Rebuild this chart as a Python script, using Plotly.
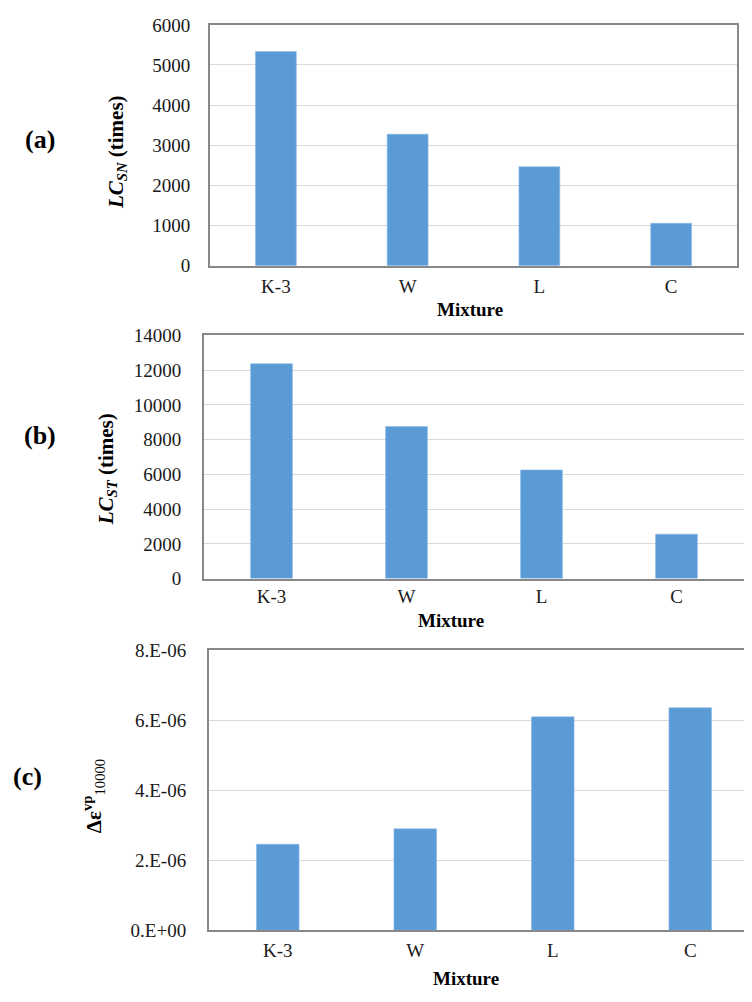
import plotly.graph_objects as go

# The page body has an 8px margin, so the figure is sized to fit the window.
OFF = 8
W, H = 752 - OFF, 1002 - OFF

mixtures = ["K-3", "W", "L", "C"]
lc_sn = [5335, 3275, 2465, 1055]
lc_st = [12370, 8760, 6255, 2560]
delta_eps = [2.46e-6, 2.90e-6, 6.10e-6, 6.36e-6]

c_tickvals = [0, 2e-6, 4e-6, 6e-6, 8e-6]
c_ticktext = ["0.E+00", "2.E-06", "4.E-06", "6.E-06", "8.E-06"]

BAR = "#5b9bd5"
GRID = "#d9d9d9"
BORDER = "#888888"
FONT = "Times New Roman, Liberation Serif, Tinos, serif"


def fx(x):
    return (x - OFF) / W


def fy(y):
    return 1 - (y - OFF) / H


fig = go.Figure()
for i, vals in enumerate([lc_sn, lc_st, delta_eps], start=1):
    fig.add_trace(go.Bar(
        x=mixtures, y=vals, width=0.31,
        marker=dict(color=BAR, line=dict(color="#8cbbe6", width=0.6)),
        xaxis="x" if i == 1 else f"x{i}", yaxis="y" if i == 1 else f"y{i}",
        showlegend=False,
    ))

tickfont = dict(family=FONT, size=19, color="#1a1a1a")

def xax(domain, anchor, standoff, mirror=True, rng=None):
    d = dict(domain=domain, anchor=anchor, showline=True, linecolor=BORDER,
             linewidth=2, mirror=mirror, showgrid=False, tickfont=tickfont,
             ticks="", ticklabelstandoff=standoff, fixedrange=True)
    if rng is not None:
        d["range"] = rng
    return d

def yax(domain, anchor, rng, standoff, mirror=True, **kw):
    d = dict(domain=domain, anchor=anchor, range=rng, showline=True,
             linecolor=BORDER, linewidth=2, mirror=mirror, showgrid=True,
             gridcolor=GRID, gridwidth=1, zeroline=False, tickfont=tickfont,
             ticks="", ticklabelstandoff=standoff, tickformat="d")
    d.update(kw)
    return d

fig.update_layout(
    width=W, height=H,
    margin=dict(l=0, r=0, t=0, b=0),
    paper_bgcolor="white", plot_bgcolor="white",
    font=dict(family=FONT),
    bargap=0.69,
    xaxis=xax([fx(210), fx(737)], "y", 3, rng=[-0.5, 3.5]),
    yaxis=yax([fy(261), fy(15)], "x", [0, 6000], 14, dtick=1000),
    xaxis2=xax([fx(204), fx(744)], "y2", 0, rng=[-0.5, 3.5]),
    yaxis2=yax([fy(580.7), fy(332.3)], "x2", [0, 14000], 17, dtick=2000),
    xaxis3=xax([fx(209), 1.0], "y3", 2, mirror=True, rng=[-0.5, 3.449]),
    yaxis3=yax([fy(940), fy(654)], "x3", [0, 8e-6], 17, mirror=False,
               tickmode="array", tickvals=c_tickvals, ticktext=c_ticktext),
)

ann = []
def label(text, x, y, size, angle=0, bold=True):
    ann.append(dict(text=f"<b>{text}</b>" if bold else text, x=fx(x), y=fy(y),
                    xref="paper", yref="paper", showarrow=False,
                    xanchor="center", yanchor="middle", textangle=angle,
                    font=dict(family=FONT, size=size, color="black")))

label("(a)", 40, 132, 26)
label("(b)", 40, 435, 26)
label("(c)", 27, 783, 26)
label("<i>LC</i><sub><i>SN</i></sub> (times)", 117, 145, 21, -90)
label("<i>LC</i><sub><i>ST</i></sub> (times)", 107, 469, 21, -90)
label("<b>Δε<sup>vp</sup></b><sub>10000</sub>", 93, 803, 21, -90, bold=False)
label("Mixture", 470, 306, 19)
label("Mixture", 451, 623, 19)
label("Mixture", 466, 989, 19)
fig.update_layout(annotations=ann)

fig.write_html("out.html")
